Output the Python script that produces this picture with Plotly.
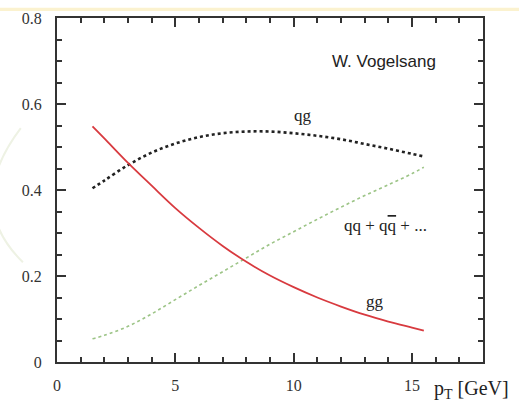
import plotly.graph_objects as go

pt = [1.5, 2, 3, 4, 5, 6, 7, 8, 9, 10, 11, 12, 13, 14, 15, 15.5]
gg = [0.548, 0.520, 0.463, 0.410, 0.358, 0.312, 0.270, 0.233, 0.201, 0.174, 0.150, 0.129, 0.110, 0.094, 0.080, 0.073]
qg = [0.404, 0.422, 0.458, 0.487, 0.508, 0.523, 0.532, 0.536, 0.536, 0.532, 0.526, 0.518, 0.507, 0.496, 0.484, 0.478]
qq = [0.054, 0.062, 0.083, 0.112, 0.145, 0.178, 0.210, 0.242, 0.274, 0.303, 0.332, 0.360, 0.387, 0.412, 0.438, 0.453]

x_ticks = [0, 5, 10, 15]
y_ticks = [0, 0.2, 0.4, 0.6, 0.8]
y_labels = ["0", "0.2", "0.4", "0.6", "0.8"]

serif = "Liberation Serif"

fig = go.Figure()
fig.add_trace(go.Scatter(x=pt, y=qq, mode="lines", line=dict(color="#9cc486", width=1.6, dash="dot", shape="spline"), showlegend=False))
fig.add_trace(go.Scatter(x=pt, y=qg, mode="lines", line=dict(color="#222222", width=2.6, dash="3px,3px", shape="spline"), showlegend=False))
fig.add_trace(go.Scatter(x=pt, y=gg, mode="lines", line=dict(color="#d83a3f", width=1.8, shape="spline"), showlegend=False))

axis_common = dict(
    showgrid=False, zeroline=False, showline=True, linecolor="#333333", linewidth=2,
    mirror="ticks", ticks="inside", tickcolor="#333333", tickwidth=2,
    tickfont=dict(family=serif, size=16, color="#333333"),
)
fig.update_xaxes(range=[0, 18], tickvals=x_ticks, ticklen=9,
                 minor=dict(dtick=1, tick0=0, ticks="inside", ticklen=5, tickcolor="#333333", tickwidth=2),
                 ticklabelstandoff=8, **axis_common)
fig.update_yaxes(range=[0, 0.8], tickvals=y_ticks, ticktext=y_labels, ticklen=9,
                 minor=dict(dtick=0.05, tick0=0, ticks="inside", ticklen=5, tickcolor="#333333", tickwidth=2),
                 ticklabelstandoff=10, **axis_common)

fig.add_annotation(x=13.8, y=0.7, text="W. Vogelsang", showarrow=False,
                   font=dict(family="Liberation Sans", size=17, color="#222222"))
fig.add_annotation(x=10.4, y=0.574, text="qg", showarrow=False,
                   font=dict(family=serif, size=17, color="#222222"))
fig.add_annotation(x=13.9, y=0.318, text="qq + q<span style='text-decoration:overline'>q</span> + ...", showarrow=False,
                   font=dict(family=serif, size=17, color="#222222"))
fig.add_annotation(x=13.45, y=0.141, text="gg", showarrow=False,
                   font=dict(family=serif, size=17, color="#222222"))
fig.add_annotation(x=0.880, y=-0.079, xref="paper", yref="paper", xanchor="left", yanchor="middle",
                   text="p<sub>T</sub> [GeV]", showarrow=False,
                   font=dict(family=serif, size=20, color="#222222"))

fig.add_shape(type="rect", xref="paper", yref="paper", x0=-0.2, x1=1.2, y0=1.02, y1=1.03,
              fillcolor="#fbf2cf", line=dict(width=0), layer="below")
fig.add_shape(type="path", xref="paper", yref="paper",
              path="M -0.085 0.68 Q -0.22 0.46 -0.08 0.29",
              line=dict(color="#eef2e4", width=2), layer="below")

fig.update_layout(
    width=519, height=404,
    margin=dict(l=57, r=36, t=10, b=41),
    paper_bgcolor="white", plot_bgcolor="white",
)
fig.write_html("out.html", config={"displayModeBar": False},
               post_script="document.body.style.margin='0';")
